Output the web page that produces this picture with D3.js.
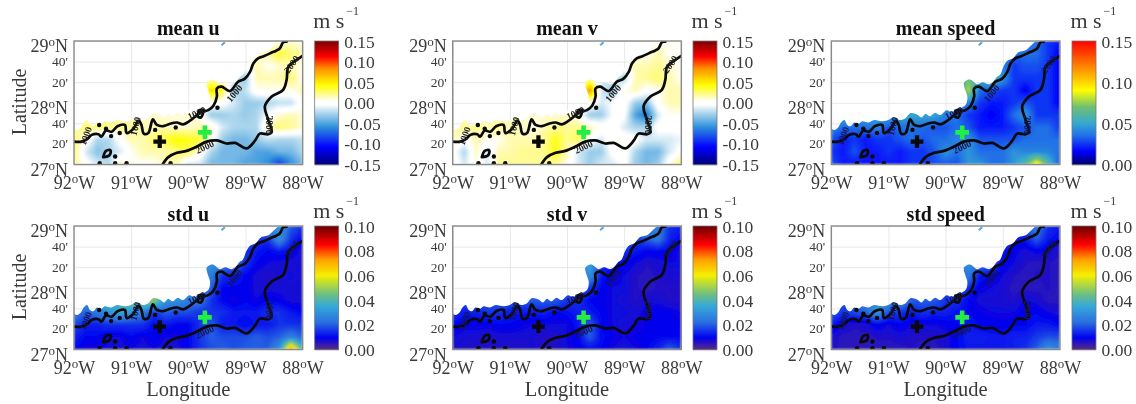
<!DOCTYPE html>
<html><head><meta charset="utf-8">
<style>html,body{margin:0;padding:0;background:#fff}svg{display:block;filter:blur(0.35px)}text{font-family:"Liberation Serif",serif}</style>
<script src="https://cdn.jsdelivr.net/npm/d3@7"></script></head><body>
<script>
// Grid: longitudes -92..-88 by 0.2, latitudes 29..27 by -0.2; values in cm/s
const lonTicks=[-92,-91,-90,-89,-88];
const latMajor=[29,28,27];
const latMinor=[28+2/3,28+1/3,27+2/3,27+1/3];
const meanU=[
[0,0,0,0,0,0,0,0,0,0,0,0,0,0,0,0,0,0,.5,1,.5],
[0,0,0,0,0,0,0,0,0,0,0,0,0,0,0,0,1,1.5,3.5,2.5,1.5],
[0,0,0,0,0,0,0,0,0,0,0,0,0,0,0,0,1.5,.5,1,1.5,.5],
[0,0,0,0,0,0,0,0,0,0,0,0,1,1,-1.5,-3,1.5,1.5,1.5,2.5,.5],
[0,0,0,0,0,0,0,0,0,0,0,0,6,3.5,-3,-2,.5,.5,.5,.5,1.5],
[0,0,0,0,0,0,0,0,0,0,0,0,0,0,-1.5,-3,-3,-2.5,-2,-2,0],
[1,1,1,1,1,1,1,1,1,1,1,.5,-3,-3,-2.5,-3,-2.5,-.5,1,1.5,1],
[1.5,2.5,2.5,2.5,2,2,1.5,1.5,1.5,1,1,1.5,1,-1.5,-2.5,-2.5,-2.5,1.5,2.5,2,1],
[2.5,.5,-2.5,-2.5,0,1.5,1.5,2.5,3.5,4.5,4,3.5,.5,-3,-4,-4,-3,-2,-2.5,-2.5,-2],
[2.5,-1.5,-3.5,-2.5,-1.5,.5,1.5,1.5,1.5,2.5,3,.5,-2.5,-4,-4,-4,-5,-5,-4,-4,-2.5],
[2,0,-1.5,-2.5,1.5,.5,.5,.5,1.5,1.5,-1.5,-1.5,-4,-4,-4,-5,-5,-6,-9,-6,-4]];
const meanV=[
[0,0,0,0,0,0,0,0,0,0,0,0,0,0,0,0,0,0,.5,.5,.5],
[0,0,0,0,0,0,0,0,0,0,0,0,0,0,0,0,.5,.5,1.5,.5,.5],
[0,0,0,0,0,0,0,0,0,0,0,0,0,0,0,0,1.5,1.5,2,1,.5],
[0,0,0,0,0,0,0,0,0,0,0,0,1.5,-1.5,-1.5,-2.5,1.5,2,2.5,1.5,.5],
[0,0,0,0,0,0,0,0,0,0,0,0,8.5,-1.5,-3,.5,1.5,0,.5,1.5,1.5],
[0,0,0,0,0,0,0,0,0,0,0,0,.5,-1.5,-.5,.5,-3,-3.5,.5,1.5,1.5],
[1,1,1,1,1,1,1,1,1,1,1,.5,-3,-3,-.5,0,-5,-7,-1.5,.5,.5],
[2,2,2,1.5,2,1.5,1.5,.5,1.5,2,2,2,1.5,.5,.5,-1.5,-2.5,-2.5,0,0,0],
[1.5,0,1.5,.5,.5,1.5,1.5,1.5,2,4,2,3,0,-1.5,.5,.5,0,-1.5,-1.5,-1.5,-1],
[0,-2.5,1.5,-1.5,1.5,1.5,2,2,2,4,1.5,-1.5,-3,-3,0,.5,-2.5,-4,-4,-1.5,0],
[.5,-1.5,.5,-1.5,2,2,2,2,2,2,.5,-1.5,-3,-1.5,-1.5,0,-3,-4,-3,.5,3]];
const meanSpeed=[
[4,4,4,4,4,4,4,4,4,4,4,4,4,4,4,4,4,4,3.5,2.5,2],
[4,4,4,4,4,4,4,4,4,4,4,4,4,4,4,5,3.5,3.5,3.5,2.5,1.5],
[4,4,4,4,4,4,4,4,4,4,4,4,5,5,5,4,2.5,3,3,2.5,1.5],
[4,4,4,4,4,4,4,4,4,4,4,4,7,5,6,4.5,2.5,2.5,2.5,2.5,1.5],
[4,4,4,4,4,4,4,4,4,4,4,4,8,3.5,3,2.5,2.5,1.5,2.5,2.5,1.5],
[4,4,4,4,4,4,4,4,4,4,4,4,4,2.5,2,2,2.5,3,2.5,2.5,1.5],
[5,5,5,5,5,5,5,5,5,5,4,3.5,2.5,2,1.5,2,3.5,4.5,2.5,2.5,2.5],
[4,3.5,3.5,3.5,4,3,3.5,3.5,3.5,3,3,3.5,3,2,2,2,2.5,3,3.5,3.5,2.5],
[3,2,2.5,2,2.5,2.5,3,3.5,3,3.5,3.5,4,4.5,3,3,3,3,3.5,3.5,3.5,3.5],
[2.5,2,3,2,2,2.5,2,2.5,2.5,3,4.5,3.5,4.5,3.5,3.5,3.5,4.5,4,4,4,3.5],
[3,2,2,2,2,2,2,2.5,2.5,3,3,3,4.5,4.5,3.5,3.5,4.5,6,9.5,6,3]];
const stdU=[
[3,3,3,3,3,3,3,3,3,3,3,3,3,3,3,3,3,3,3,2,1.5],
[3,3,3,3,3,3,3,3,3,3,3,3,3,3,3,2.5,1.5,1.5,3,1.5,1],
[3,3,3,3,3,3,3,3,3,3,3,3,3,3,3,1.5,1.2,1,1.2,1,.7],
[3,3,3,3,3,3,3,3,3,3,3,3,3,2.5,2.5,1.5,1,.8,.7,.7,.7],
[3,3,3,3,3,3,3,3,3,3,3,3,2.5,1.5,1.2,1,.7,.6,.7,.8,.7],
[3,3,3,3,3,3,3,3,3,3,3,3,2,1,1,1,.7,.7,.7,.7,.7],
[3,3,3,4,4,5,5,5,3,3,2.5,2.5,1.5,1,.8,1,.8,1,.9,.7,.7],
[2.5,2,2.5,3,3.5,3,2.5,1.5,2,1.8,1.8,1.5,1.5,1.5,1.2,1.2,1.2,1.5,1.5,1.2,1],
[1.8,1.3,1.3,1.5,1.5,1.5,1.5,1,1.2,1,1,1.5,2,1.2,1.2,1,1.2,1.2,1.5,1.5,1.5],
[1.3,1,1,.8,.8,1,.8,1,.8,.8,1,1.5,2,1.8,1.8,1.8,2,1.8,2,2.5,2],
[1,.8,.8,.8,.7,.8,.7,.8,.7,.7,1,1.5,1.8,2,1.8,2,2,2,3,7.5,4]];
const stdV=[
[2,2,2,2,2,2,2,2,2,2,2,2,2,2,2,2,2,2.5,2.5,1.5,1.3],
[2,2,2,2,2,2,2,2,2,2,2,2,2,2,2,2.5,1.5,2,2.5,1.3,1],
[2,2,2,2,2,2,2,2,2,2,2,2,2,2,2.5,1.5,1.2,1,1,1,.7],
[2,2,2,2,2,2,2,2,2,2,2,2,3.5,1.5,1.2,1,.8,.6,.7,.8,.8],
[2,2,2,2,2,2,2,2,2,2,2,2,3,1.2,.9,.8,.6,.5,.6,.7,.7],
[2,2,2,2,2,2,2,2,2,2,2,2,1.5,1,.8,.8,.6,.5,.6,.6,.6],
[2,2,2,2,2,2,2,2,2,2,1.5,1.5,1,.9,.8,.7,.6,.7,.7,.6,.6],
[1.5,1.2,1.3,1.5,1.5,1.2,1.2,1.2,1.3,1,1.1,1.3,1.2,1,.8,.8,.7,.9,1,.9,.8],
[1,.9,.9,.9,1,1,.9,.8,.8,.8,.8,1.2,2,1,.8,.7,.8,.9,1,1,.9],
[.8,.7,.7,.6,.7,.7,.7,.7,.6,.6,.8,1,2,1.1,.9,.8,.9,.9,1,1,1],
[.7,.6,.6,.6,.6,.6,.6,.7,.6,.6,.8,.9,1,1,.8,.7,.8,1,1.3,2,1.5]];
const stdSpeed=[
[2,2,2,2,2,2,2,2,2,2,2,2,2,2,2,2,2,2,2.5,1.5,1.2],
[2,2,2,2,2,2,2,2,2,2,2,2,2,2,2,2.5,1.2,1.2,2,1.2,1],
[2,2,2,2,2,2,2,2,2,2,2,2,2,2,2.5,1.2,.9,.7,.9,.8,.6],
[2,2,2,2,2,2,2,2,2,2,2,2,3,2.5,2,1,.8,.6,.5,.6,.5],
[2,2,2,2,2,2,2,2,2,2,2,2,2.5,1.2,1,.8,.6,.5,.6,.6,.5],
[2,2,2,2,2,2,2,2,2,2,2,2,1.5,.9,.8,.7,.5,.5,.5,.6,.5],
[2,2,2,3,3,3,3,2,2,2,1.5,1.5,1,.7,.7,.7,.6,.8,.7,.5,.5],
[2,1.5,1.8,2,3,1.8,1.5,1.2,1.5,1.3,1.3,1.1,1,.9,.8,.8,.8,1,1,.8,.7],
[1.2,.8,.6,.7,1,.8,1,.8,.8,.8,.9,1,1.2,1,1,.9,1,1,1.2,1.2,1],
[.7,.5,.5,.5,.6,.6,.7,.6,.6,.6,.7,1,1.3,1.3,1.2,1.2,1.3,1.3,1.6,1.8,1.8],
[.6,.5,.5,.5,.5,.5,.5,.6,.5,.5,.7,1,1.2,1.2,1.2,1.2,1.3,1.5,2,3,2.5]];

const titles=["mean u","mean v","mean speed","std u","std v","std speed"];
const grids=[meanU,meanV,meanSpeed,stdU,stdV,stdSpeed];
const colorTicks=[
 [0.15,0.10,0.05,0.00,-0.05,-0.10,-0.15],[0.15,0.10,0.05,0.00,-0.05,-0.10,-0.15],[0.15,0.10,0.05,0.00],
 [0.10,0.08,0.06,0.04,0.02,0.00],[0.10,0.08,0.06,0.04,0.02,0.00],[0.10,0.08,0.06,0.04,0.02,0.00]];
const isobath1000Lon=[-92,-91.87,-91.77,-91.69,-91.57,-91.52,-91.44,-91.34,-91.24,-91.11,-91.08,-90.96,-90.87,-90.82,-90.78,-90.70,-90.62,-90.55,-90.44,-90.32,-90.20,-90.09,-89.97,-89.85,-89.77,-89.65,-89.56,-89.50,-89.50,-89.42,-89.27,-89.13,-89.01,-88.92,-88.86,-88.78,-88.69,-88.57,-88.40,-88.34,-88.28];
const isobath1000Lat=[27.37,27.37,27.41,27.48,27.49,27.45,27.55,27.53,27.62,27.64,27.51,27.58,27.71,27.64,27.50,27.51,27.73,27.64,27.62,27.66,27.68,27.65,27.71,27.80,27.85,27.88,27.95,28.10,28.23,28.26,28.19,28.34,28.39,28.50,28.64,28.72,28.75,28.80,28.88,28.98,28.99];
const isobath2000Lon=[-90.45,-90.35,-90.20,-90.03,-89.85,-89.68,-89.50,-89.33,-89.18,-88.98,-88.83,-88.75,-88.60,-88.54,-88.60,-88.66,-88.54,-88.34,-88.28,-88.25,-88.11,-88.00];
const isobath2000Lat=[27.00,27.12,27.19,27.22,27.29,27.37,27.39,27.34,27.35,27.26,27.39,27.50,27.49,27.53,27.72,27.94,28.10,28.21,28.37,28.58,28.69,28.76];
const loopLon=[-91.49,-91.44,-91.36,-91.38,-91.49];
const loopLat=[27.12,27.22,27.23,27.15,27.12];
const loop2Lon=[-89.84,-89.80,-89.74,-89.78,-89.84];
const loop2Lat=[27.78,27.88,27.88,27.76,27.78];
const dotLon=[-90.58,-90.22,-89.49,-91.44,-91.56,-91.35,-91.20,-91.28,-91.55,-91.28,-91.08,-90.31];
const dotLat=[27.56,27.60,27.92,27.58,27.64,27.46,27.51,27.13,27.02,27.02,27.02,27.02];
const edgeLon=[-92,-91.95,-91.88,-91.83,-91.77,-91.72,-91.66,-91.6,-91.52,-91.46,-91.35,-91.25,-91.1,-91,-90.92,-90.8,-90.7,-90.62,-90.5,-90.42,-90.35,-90.28,-90.18,-90.1,-89.98,-89.9,-89.8,-89.72,-89.64,-89.62,-89.66,-89.68,-89.62,-89.55,-89.45,-89.35,-89.25,-89.18,-89.1,-89.05,-88.98,-88.92,-88.82,-88.72,-88.6,-88.5,-88.43];
const edgeLat=[27.58,27.56,27.60,27.68,27.72,27.64,27.62,27.68,27.66,27.70,27.68,27.72,27.70,27.72,27.76,27.72,27.75,27.83,27.81,27.76,27.82,27.78,27.84,27.80,27.88,27.85,27.90,27.92,27.98,28.10,28.22,28.32,28.37,28.37,28.30,28.33,28.30,28.33,28.42,28.45,28.60,28.68,28.72,28.82,28.85,28.93,28.99];
const labelText=["1000","1000","1000","1000","2000","2000","2000"];
const labelLon=[-91.79,-90.92,-89.85,-89.19,-89.71,-88.58,-88.19];
const labelLat=[27.46,27.62,27.83,28.15,27.28,27.64,28.62];
const labelRot=[-70,-75,-25,-50,-25,90,-55];
const stationLon=[-90.50,-89.71];
const stationLat=[27.37,27.52];
const stationColor=["#0a0a0a","#22ee44"];
const stationSize=[90,105];
const speckLon=[-89.42,-89.36];
const speckLat=[28.93,28.98];

const W=1136,H=404;
const colX=[74,452.7,831.3], rowY=[41,226], pw=228.6, ph=123.5;
const barX=[314.7,693,1072], barW=24;
const divergent=d3.scaleLinear().domain([-.15,-.108,-.059,-.026,-.005,.004,.015,.043,.084,.112,.15]).range(["#00007a","#0000ff","#2f90dc","#a8d4ec","#ffffff","#ffffff","#fffbb0","#ffff00","#ff8c00","#ff0000","#7a0000"]).clamp(true);
const speedMap=d3.scaleLinear().domain([0,.016,.035,.05,.07,.09,.12,.15]).range(["#00006a","#0000ff","#2070e8","#35a8d0","#70c070","#ffff00","#ff8000","#ff0000"]).clamp(true);
const stdMap=d3.scaleLinear().domain([0,.0095,.022,.035,.045,.06,.0727,.085,.1]).range(["#5a2d82","#0000f0","#2a70e0","#35a8d8","#70c080","#f5f000","#ffa000","#ff0000","#6a0000"]).clamp(true);
const maps=[divergent,divergent,speedMap,stdMap,stdMap,stdMap];
const ink="#3a3a3a";
const svg=d3.select("body").append("svg").attr("width",W).attr("height",H);
const defs=svg.append("defs");
defs.append("filter").attr("id","soft").attr("x","-5%").attr("y","-5%").attr("width","110%").attr("height","110%").append("feGaussianBlur").attr("stdDeviation",.8);

function fieldImage(grid,color,w,h){
  const nr=grid.length,nc=grid[0].length,c=document.createElement("canvas");
  c.width=w;c.height=h;const g=c.getContext("2d"),im=g.createImageData(w,h);
  const cx=d3.scaleLinear().domain([0,w-1]).range([0,nc-1]),cy=d3.scaleLinear().domain([0,h-1]).range([0,nr-1]);
  for(let y=0;y<h;y++)for(let x=0;x<w;x++){
    const fx=cx(x),fy=cy(y),i=Math.min(nc-2,Math.floor(fx)),j=Math.min(nr-2,Math.floor(fy)),a=fx-i,b=fy-j;
    const v=(grid[j][i]*(1-a)*(1-b)+grid[j][i+1]*a*(1-b)+grid[j+1][i]*(1-a)*b+grid[j+1][i+1]*a*b)/100;
    const k=d3.rgb(color(v)),o=(y*w+x)*4;
    im.data[o]=k.r;im.data[o+1]=k.g;im.data[o+2]=k.b;im.data[o+3]=255;
  }
  g.putImageData(im,0,0);return c.toDataURL();
}
function degLabel(sel,num,hemi,supSize){
  sel.text(null);sel.append("tspan").text(num);
  sel.append("tspan").attr("font-size",supSize).attr("dy",-6).text("o");
  sel.append("tspan").attr("dy",6).text(hemi);
}
titles.forEach((title,p)=>{
  const c=p%3,r=Math.floor(p/3),px=colX[c],py=rowY[r];
  const x=d3.scaleLinear().domain([-92,-88]).range([0,pw]);
  const y=d3.scaleLinear().domain([27,29]).range([ph,0]);
  const g=svg.append("g").attr("transform",`translate(${px},${py})`);
  const ln=d3.line().x(d=>x(d[0])).y(d=>y(d[1])).curve(d3.curveCatmullRom.alpha(.5));
  const straight=d3.line().x(d=>x(d[0])).y(d=>y(d[1]));
  const zipped=(a,b)=>a.map((v,i)=>[v,b[i]]);
  const edgeD=ln(zipped(edgeLon,edgeLat))+"L"+x(-88)+","+y(29)+"L"+x(-88)+","+y(27)+"L"+x(-92)+","+y(27)+"Z";
  g.append("clipPath").attr("id","edge"+p).append("path").attr("d",edgeD);
  g.append("clipPath").attr("id","box"+p).append("rect").attr("width",pw).attr("height",ph);
  g.append("g").call(d3.axisBottom(x).tickValues(lonTicks).tickSize(ph).tickFormat(""))
    .call(a=>{a.select(".domain").remove();a.selectAll("line").attr("stroke","#e2e2e2").attr("stroke-width",.8);});
  g.append("g").call(d3.axisLeft(y).tickValues(latMajor.concat(latMinor)).tickSize(-pw).tickFormat(""))
    .call(a=>{a.select(".domain").remove();a.selectAll("line").attr("stroke","#e2e2e2").attr("stroke-width",.8);});
  g.append("g").attr("clip-path",`url(#edge${p})`).append("image")
    .attr("href",fieldImage(grids[p],maps[p],Math.round(pw),Math.round(ph)))
    .attr("width",pw).attr("height",ph).attr("preserveAspectRatio","none").attr("filter","url(#soft)");
  g.append("path").attr("d",straight(zipped(speckLon,speckLat))).attr("stroke","#5aa8d8").attr("stroke-width",2).attr("fill","none");
  const lines=g.append("g").attr("clip-path",`url(#box${p})`);
  [[isobath1000Lon,isobath1000Lat],[isobath2000Lon,isobath2000Lat],[loopLon,loopLat],[loop2Lon,loop2Lat]].forEach(([a,b])=>{
    lines.append("path").attr("d",ln(zipped(a,b))).attr("fill","none").attr("stroke","#0a0a0a").attr("stroke-width",2.7).attr("stroke-linejoin","round").attr("stroke-linecap","round");
  });
  lines.selectAll(".dot").data(zipped(dotLon,dotLat)).join("circle").attr("class","dot").attr("cx",d=>x(d[0])).attr("cy",d=>y(d[1])).attr("r",2.2).attr("fill","#0a0a0a");
  lines.selectAll(".lbl").data(labelText).join("text").attr("class","lbl")
    .attr("transform",(d,i)=>`translate(${x(labelLon[i])},${y(labelLat[i])}) rotate(${labelRot[i]})`)
    .attr("text-anchor","middle").attr("dy",3).attr("font-size",9.5).attr("font-weight","bold").attr("fill",p<2?"#222":"#16164a").text(d=>d);
  g.selectAll(".st").data(stationLon).join("path").attr("class","st")
    .attr("transform",(d,i)=>`translate(${x(d)},${y(stationLat[i])})`)
    .attr("d",(d,i)=>d3.symbol(d3.symbolCross,stationSize[i])()).attr("fill",(d,i)=>stationColor[i]);
  g.append("rect").attr("width",pw).attr("height",ph).attr("fill","none").attr("stroke","#8a8a8a").attr("stroke-width",1.4);
  const xa=g.append("g").attr("transform",`translate(0,${ph})`).call(d3.axisBottom(x).tickValues(lonTicks).tickSize(0).tickPadding(0));
  xa.select(".domain").remove();
  xa.selectAll("text").attr("y",0).attr("dy",24).attr("font-size",18).attr("font-family","Liberation Serif").attr("fill",ink)
    .attr("text-anchor","middle").each(function(d){degLabel(d3.select(this),String(Math.abs(d)),"W",13);});
  const ya=g.append("g").call(d3.axisLeft(y).tickValues(latMajor).tickSize(0).tickPadding(0));
  ya.select(".domain").remove();
  ya.selectAll("text").attr("x",-6).attr("dy",10.5).attr("font-size",18).attr("font-family","Liberation Serif").attr("fill",ink)
    .each(function(d){degLabel(d3.select(this),String(d),"N",13);});
  const ym=g.append("g").call(d3.axisLeft(y).tickValues(latMinor).tickSize(0).tickPadding(0).tickFormat(d=>(Math.round((d%1)*60))+"'"));
  ym.select(".domain").remove();
  ym.selectAll("text").attr("x",-6).attr("dy",4).attr("font-size",13.5).attr("font-family","Liberation Serif").attr("fill",ink);
  svg.append("text").attr("x",px+pw/2).attr("y",r?220.7:35).attr("text-anchor","middle").attr("font-size",20).attr("font-weight","bold").attr("fill","#111").text(title);
  if(c===0) svg.append("text").attr("transform",`translate(26,${r?287:102}) rotate(-90)`).attr("text-anchor","middle").attr("font-size",20).attr("fill",ink).text("Latitude");
  if(r===1) svg.append("text").attr("x",px+pw/2).attr("y",396).attr("text-anchor","middle").attr("font-size",20.5).attr("fill",ink).text("Longitude");
  const cm=maps[p],cd=cm.domain(),lo=cd[0],hi=cd[cd.length-1];
  const by=d3.scaleLinear().domain([lo,hi]).range([ph,0]);
  const bar=svg.append("g").attr("transform",`translate(${barX[c]},${py})`);
  bar.selectAll("rect").data(d3.range(Math.round(ph))).join("rect")
    .attr("y",d=>d).attr("width",barW).attr("height",1.2).attr("fill",d=>cm(by.invert(d+.5)));
  bar.append("rect").attr("width",barW).attr("height",ph).attr("fill","none").attr("stroke","#777").attr("stroke-width",.8);
  const ba=bar.append("g").attr("transform",`translate(${barW},0)`).call(d3.axisRight(by).tickValues(colorTicks[p]).tickSize(0).tickPadding(0).tickFormat(d3.format(".2f")));
  ba.select(".domain").remove();
  ba.selectAll("text").attr("x",5.5).attr("dy",6).attr("font-size",17.5).attr("font-family","Liberation Serif").attr("fill",ink).text(d=>d3.format(".2f")(d).replace("−","-"));
  const unitX=barX[c]-1.5, unitY=r?218:28;
  svg.append("text").attr("x",unitX).attr("y",unitY).attr("font-size",22).attr("fill",ink).text("m s");
  svg.append("text").attr("x",unitX+33).attr("y",unitY-13).attr("font-size",12).attr("fill",ink).text("−1");
});
</script></body></html>
